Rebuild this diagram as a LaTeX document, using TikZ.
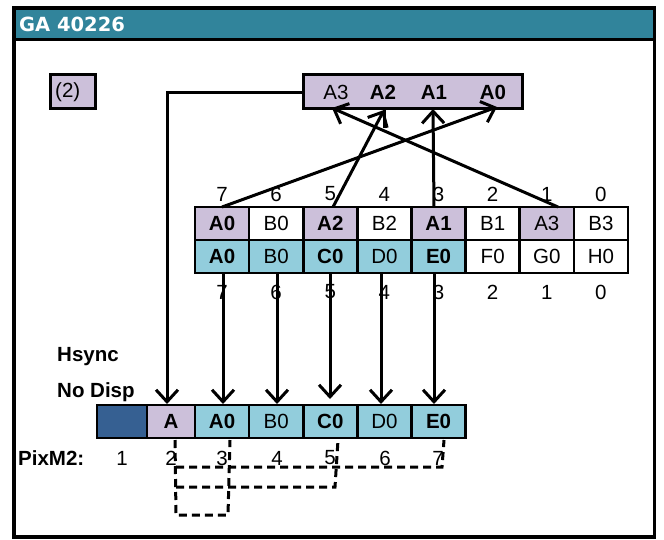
\documentclass[tikz,border=0pt]{standalone}
\usepackage{fontspec}
\setmainfont{Liberation Sans}
\newfontfamily\titlefont{DejaVu Sans}
\usetikzlibrary{arrows.meta}
\definecolor{teal1}{HTML}{31849B}
\definecolor{lav}{HTML}{CCC0DA}
\definecolor{lblue}{HTML}{92CDDC}
\definecolor{dblue}{HTML}{366092}
\begin{document}
\begin{tikzpicture}[x=1pt,y=-1pt,
 cell/.style={draw, line width=2.6pt, minimum width=54.125pt, minimum height=33pt, inner sep=0pt, font=\fontsize{20.5}{22}\selectfont},
 lbl/.style={inner sep=0pt, font=\fontsize{20.5}{22}\selectfont},
 blbl/.style={inner sep=0pt, font=\fontsize{20.5}{22}\selectfont\bfseries},
 arr/.style={line width=3pt, -{Straight Barb[length=12pt,width=22pt]}},
 dsh/.style={line width=3pt, dash pattern=on 8pt off 5pt},
]
\useasboundingbox (0,0) rectangle (664,539);
% frame and title bar
\fill[teal1] (14,8) rectangle (654,39.5);
\draw[line width=3.5pt] (14,39.5) -- (654,39.5);
\draw[line width=3.5pt] (14,8) rectangle (654.5,537);
\node[anchor=west, inner sep=0pt, text=white, font=\titlefont\fontsize{19.5}{22}\selectfont\bfseries] (title) at (19,24) {GA 40226};

% (2) box
\node[draw, line width=3pt, fill=lav, minimum width=45pt, minimum height=34pt, inner sep=0pt] (two) at (72.5,91) {};
\node[lbl, anchor=west] (twot) at (55,92) {(2)};

% top register
\node[draw, line width=3pt, fill=lav, minimum width=219pt, minimum height=34pt, inner sep=0pt] (reg) at (412.5,91) {};
\node[lbl] (ra3) at (336,92) {A3};
\node[blbl] (ra2) at (383,92) {A2};
\node[blbl] (ra1) at (434,92) {A1};
\node[blbl] (ra0) at (493,92) {A0};

% middle table
\foreach \i/\f/\t in {0/lav/\textbf{A0},1/white/B0,2/lav/\textbf{A2},3/white/B2,4/lav/\textbf{A1},5/white/B1,6/lav/A3,7/white/B3}
  \node[cell, fill=\f] (t\i) at (222.06+\i*54.125,223.5) {\t};
\foreach \i/\f/\t in {0/lblue/\textbf{A0},1/lblue/B0,2/lblue/\textbf{C0},3/lblue/D0,4/lblue/\textbf{E0},5/white/F0,6/white/G0,7/white/H0}
  \node[cell, fill=\f] (u\i) at (222.06+\i*54.125,256.5) {\t};
\foreach \i/\n in {0/7,1/6,2/5,3/4,4/3,5/2,6/1,7/0}{
  \node[lbl] (ht\i) at (222.06+\i*54.125,194) {\n};
  \node[lbl] (hb\i) at (222.06+\i*54.125,292) {\n};
}

% bottom register
\node[cell, fill=dblue, minimum width=50pt] (b0) at (122,421.5) {};
\node[cell, fill=lav, minimum width=48pt, font=\fontsize{20.5}{22}\selectfont\bfseries] (bA) at (171,421.5) {A};
\foreach \i/\t in {1/\textbf{A0},2/B0,3/\textbf{C0},4/D0,5/\textbf{E0}}
  \node[cell, fill=lblue] (b\i) at (222.06+\i*54.125-54.125,421.5) {\t};

% labels
\node[blbl, anchor=west] (hs) at (57,357) {Hsync};
\node[blbl, anchor=west] (nd) at (57,392) {No Disp};
\node[blbl, anchor=west] (pm) at (18,458) {PixM2:};
\foreach \i/\x/\n in {1/122/1,2/171/2,3/222/3,4/277/4,5/330/5,6/385/6,7/438/7}
  \node[lbl] (p\i) at (\x,458) {\n};

% arrows up
\coordinate (s0) at (222,207);
\coordinate (s2) at (333,207);
\coordinate (s4) at (434,207);
\coordinate (s6) at (558,207);
\coordinate (e0) at (497,107);
\coordinate (e2) at (384,110);
\coordinate (e1) at (433,109);
\coordinate (e3) at (332,108);
\draw[arr] (s0) -- (e0);
\draw[arr] (s2) -- (e2);
\draw[arr] (s4) -- (e1);
\draw[arr] (s6) -- (e3);
\coordinate (st2) at (384,128);
\draw[line width=3pt] (e2) -- (st2);

% left connector
\coordinate (c1) at (167,92);
\coordinate (c2) at (167,404);
\draw[arr] (reg.west |- c1) -- (c1) -- (c2);

% arrows down
\foreach \i/\x/\y in {1/223/404,2/277/404,3/330/399,4/381/404,5/434/404}{
  \coordinate (d\i) at (\x,274);
  \coordinate (f\i) at (\x,\y);
  \draw[arr] (d\i) -- (f\i);
}

% dashed brackets
\coordinate (q0) at (175,440);
\coordinate (q1) at (176,515);
\coordinate (q2) at (228,515);
\coordinate (q3) at (230,440);
\draw[dsh] (q0) -- (q1) -- (q2) -- (q3);
\coordinate (r0) at (176,487);
\coordinate (r1) at (335,487);
\coordinate (r2) at (338,440);
\draw[dsh] (r0) -- (r1) -- (r2);
\coordinate (v0) at (176,467);
\coordinate (v1) at (442,467);
\coordinate (v2) at (444,440);
\draw[dsh] (v0) -- (v1) -- (v2);
\end{tikzpicture}
\end{document}
